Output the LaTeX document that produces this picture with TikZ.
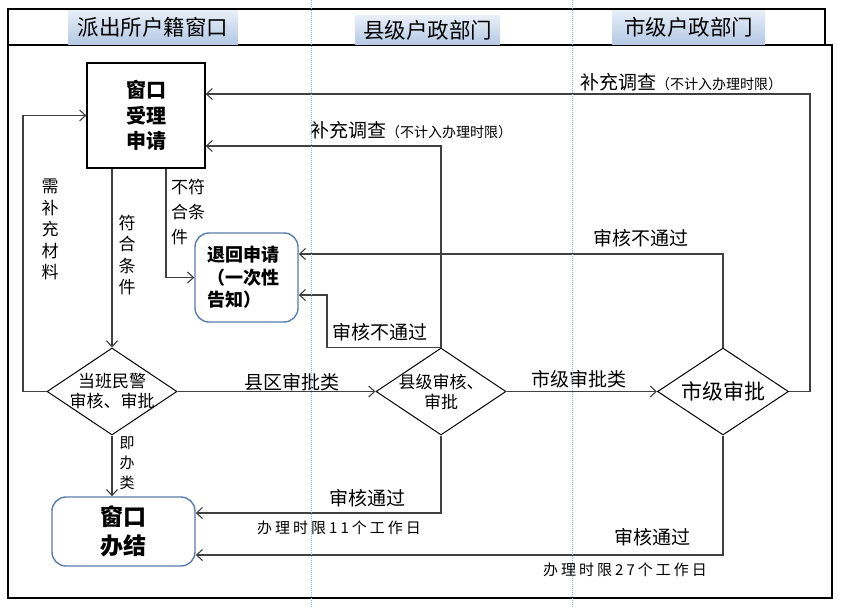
\documentclass[tikz,border=0pt]{standalone}
\usepackage{fontspec}
\setmainfont{Noto Sans CJK SC}
\usetikzlibrary{positioning, arrows.meta, shapes.geometric, calc}
\definecolor{linecolor}{RGB}{64,64,64}
\definecolor{lanecolor}{RGB}{150,172,204}
\definecolor{roundcolor}{RGB}{88,125,170}
\definecolor{headtop}{RGB}{232,239,248}
\definecolor{headbottom}{RGB}{180,201,228}

\begin{document}
\begin{tikzpicture}[
    x=1pt, y=-1pt,
    box/.style={draw, rectangle, line width=1.2pt, minimum width=118pt, minimum height=105pt, align=center, font=\fontsize{20}{25.5}\selectfont\bfseries},
    roundbox/.style={draw=roundcolor, rectangle, rounded corners=14pt, line width=1.4pt, inner sep=0pt},
    decision/.style={draw, diamond, line width=1pt, inner sep=0pt, minimum width=130pt, minimum height=87pt},
    dtext/.style={align=center, inner sep=0pt, font=\fontsize{17}{20}\selectfont},
    lanehead/.style={rectangle, top color=headtop, bottom color=headbottom, minimum height=34pt, font=\fontsize{21.5}{24}\selectfont},
    arrow/.style={-{Straight Barb[length=6pt, width=11pt]}, line width=1.1pt, linecolor},
    vlabel/.style={align=center, inner sep=0pt, font=\fontsize{17}{21.5}\selectfont},
    elabel/.style={inner sep=0pt, font=\fontsize{19}{22}\selectfont},
    timelabel/.style={inner sep=0pt, font=\fontsize{15}{18}\selectfont\addfontfeature{LetterSpace=20}},
    lane/.style={lanecolor, line width=0.8pt, dash pattern=on 1pt off 1pt}
]
    \useasboundingbox (0,0) rectangle (846,608);

    % Cadre
    \draw[line width=1.2pt] (8,9) rectangle (825,45);
    \draw[line width=1.2pt] (8,45) rectangle (832,598);

    % En-tetes
    \node[lanehead, minimum width=170pt] (police) at (153,27) {派出所户籍窗口};
    \node[lanehead, minimum width=145pt, minimum height=29pt] (countyhead) at (427.5,30) {县级户政部门};
    \node[lanehead, minimum width=153pt] (cityhead) at (688.5,27) {市级户政部门};

    % Noeuds
    \node[box] (accept) at (146,115.5) {窗口\\受理\\申请};
    \node[roundbox, minimum width=103pt, minimum height=89pt] (reject) at (246.5,277.5)
        {\begin{minipage}{78pt}\fontsize{18}{22.5}\selectfont\bfseries 退回申请\\（一次性\\告知）\end{minipage}};
    \node[decision, label={[dtext]center:当班民警\\审核、审批}] (duty) at (112,391.5) {};
    \node[decision, label={[dtext]center:县级审核、\\审批}] (county) at (441,391.5) {};
    \node[decision, minimum width=131pt, label={[dtext, font=\fontsize{21}{24}\selectfont]center:市级审批}] (city) at (723,391.5) {};
    \node[roundbox, minimum width=143pt, minimum height=69pt, align=center, font=\fontsize{23}{29}\selectfont\bfseries] (done) at (123.5,531.5) {窗口\\办结};

    % Coins des connecteurs
    \coordinate (supp) at (23,391.5);
    \coordinate (inv1) at (441,146);
    \coordinate (inv2) at (810,94);
    \coordinate (back1) at (327,295);
    \coordinate (back2) at (723,254);
    \coordinate (pass1) at (441,513);
    \coordinate (pass2) at (723,555);

    % Fenetre
    \draw[arrow] (accept.south -| duty.north) -- (duty.north);
    \draw[arrow] ([xshift=20pt]accept.south) |- (reject.west);
    \draw[arrow] (duty.west) -- (supp) |- (accept.west);
    \draw[arrow] (duty.east) -- (county.west);
    \draw[arrow] (duty.south) -- (duty.south |- done.north);

    % Niveau district
    \draw[arrow] (county.north) -- (inv1) -- (inv1 -| accept.east);
    \draw[arrow] (county.north) -| (back1) -- (back1 -| reject.east);
    \draw[arrow] (county.east) -- (city.west);
    \draw[arrow] (county.south) -- (pass1) -- (pass1 -| done.east);

    % Niveau ville
    \draw[arrow] (city.east) -| (inv2) -- (inv2 -| accept.east);
    \draw[arrow] (city.north) -- (back2) -- (back2 -| reject.east);
    \draw[arrow] (city.south) -- (pass2) -- (pass2 -| done.east);

    % Etiquettes
    \node[vlabel] (fitlabel) at (127,255) {符\\合\\条\\件};
    \node[vlabel, align=left, font=\fontsize{17}{25}\selectfont] (nofitlabel) at (188,212) {不符\\合条\\件};
    \node[vlabel] (supplabel) at (50,229.5) {需\\补\\充\\材\\料};
    \node[vlabel, font=\fontsize{15}{20}\selectfont] (nowlabel) at (127,463) {即\\办\\类};
    \node[elabel] (countylabel) at (292,382) {县区审批类};
    \node[elabel] (citylabel) at (579,379) {市级审批类};
    \node[elabel, anchor=west] (inv1label) at (310,130) {补充调查{\fontsize{14}{15}\selectfont（不计入办理时限）}};
    \node[elabel, anchor=west] (inv2label) at (580,82) {补充调查{\fontsize{14}{15}\selectfont（不计入办理时限）}};
    \node[elabel] (back1label) at (380,332) {审核不通过};
    \node[elabel] (back2label) at (641,238) {审核不通过};
    \node[elabel] (pass1label) at (367,498) {审核通过};
    \node[elabel] (pass2label) at (652,537) {审核通过};
    \node[timelabel] (time1label) at (339,528) {办理时限11个工作日};
    \node[timelabel] (time2label) at (625,570) {办理时限27个工作日};

    % Couloirs
    \draw[lane] (311,0) -- (311,608);
    \draw[lane] (572,0) -- (572,608);
\end{tikzpicture}
\end{document}
